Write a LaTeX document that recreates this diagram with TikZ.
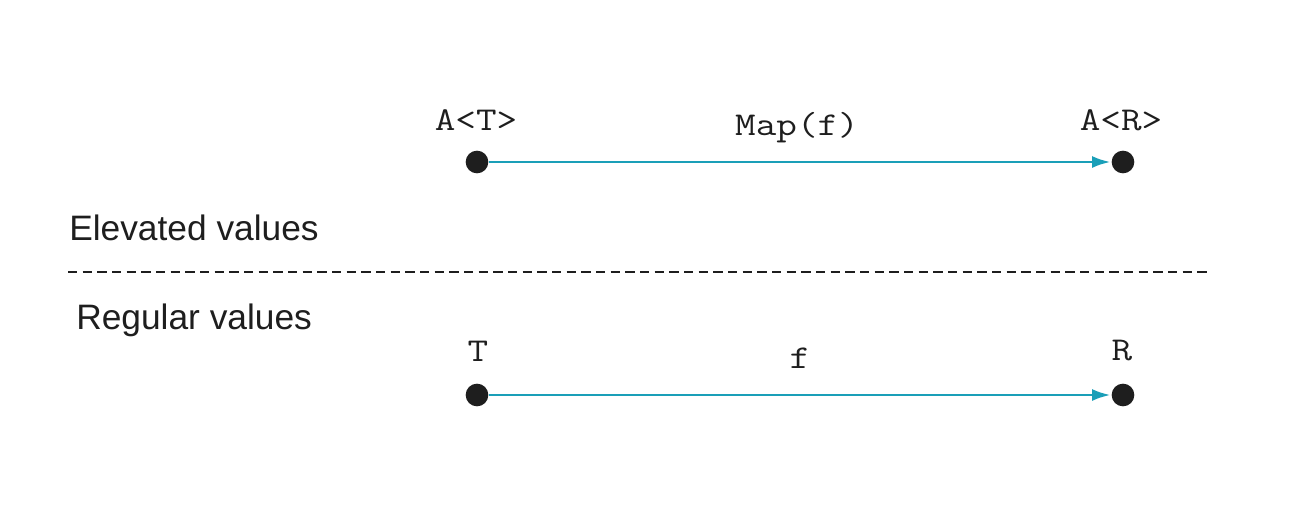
\documentclass[tikz,border=0pt]{standalone}
\usepackage{fontspec}
\usepackage{graphicx}
\setmainfont{Liberation Sans}
\usetikzlibrary{arrows.meta}
\definecolor{teal1}{HTML}{1A9FB8}
\definecolor{ink}{HTML}{1E1E1E}
\newcommand{\mytt}[1]{\scalebox{1.2}[1]{\fontsize{25}{30}\selectfont\ttfamily #1}}
\tikzset{
  dot/.style={circle,fill=ink,inner sep=0pt,minimum size=17pt},
  arr/.style={teal1,line width=2.2pt,-{Latex[length=14pt,width=9pt]},shorten >=0.5pt},
  mono/.style={text=ink,inner sep=0pt},
  sans/.style={font=\fontsize{26.5}{30}\selectfont,text=ink,inner sep=0pt,anchor=west},
  sep/.style={ink,line width=1.4pt,dash pattern=on 7pt off 4pt}
}
\begin{document}
\begin{tikzpicture}[x=0.75pt,y=-0.75pt]
\useasboundingbox (0,0) rectangle (1300,518);
\node[dot] (at) at (477,162) {};
\node[dot] (ar) at (1123,162) {};
\node[dot] (t) at (477,395) {};
\node[dot] (r) at (1123,395) {};
\node[mono] (lat) at (476,120) {\mytt{A<T>}};
\node[mono] (lar) at (1121,120) {\mytt{A<R>}};
\node[mono] (lmap) at (797,128) {\mytt{Map(f)}};
\node[mono] (lt) at (478,351) {\mytt{T}};
\node[mono] (lr) at (1122,351) {\mytt{R}};
\node[mono] (lf) at (800,358) {\mytt{f}};
\draw[arr] (at) -- (ar);
\draw[arr] (t) -- (r);
\node[sans] (elev) at (69,228) {Elevated values};
\node[sans] (reg) at (76,320) {Regular values};
\coordinate (d1) at (68,272);
\coordinate (d2) at (1211,272);
\draw[sep] (d1) -- (d2);
\end{tikzpicture}
\end{document}
